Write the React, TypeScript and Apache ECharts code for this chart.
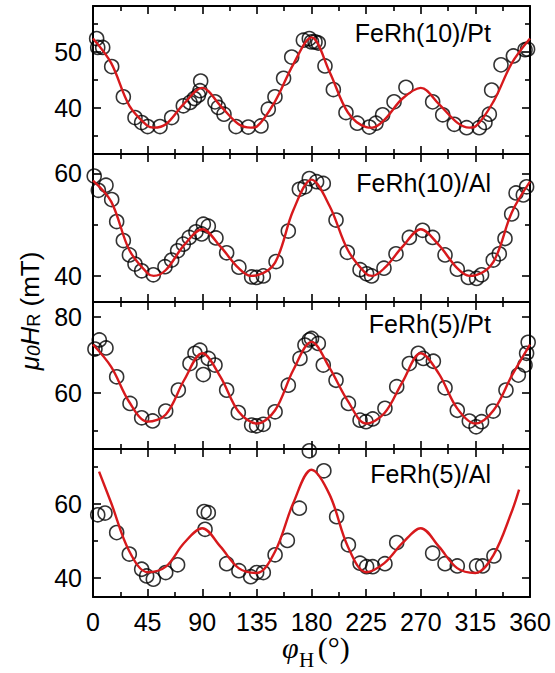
import React, { useEffect, useRef } from 'react';
import * as echarts from 'echarts';

// ---- data (angle in degrees, resonance field in mT) ----
const panelNames = ['FeRh(10)/Pt', 'FeRh(10)/Al', 'FeRh(5)/Pt', 'FeRh(5)/Al'];

const pt10Points = [
  [3, 52.4], [3.9, 50.8], [8, 50.8], [15.4, 47.4], [25, 42.0], [34.6, 38.3], [40.1, 37.4], [45, 36.7],
  [55.2, 36.7], [64.8, 38.3], [74.4, 40.4], [79.9, 41.0], [83.5, 41.7], [86.8, 42.3], [88.1, 43.1],
  [88.7, 44.8], [100.5, 41.1], [103.3, 40.1], [107.9, 38.9], [117.8, 36.7], [127.9, 36.6], [138.4, 36.8],
  [144.4, 39.8], [149.9, 42.0], [157, 45.3], [163.7, 49.1], [173.3, 52.1], [178.2, 52.4], [180, 51.8],
  [182.9, 51.8], [185.6, 51.6], [191.1, 47.5], [198, 43.3], [208.4, 39.2], [217.7, 37.3], [227.6, 36.6],
  [233.1, 37.3], [238.6, 38.8], [248, 41.1], [257.8, 43.7], [279.8, 41.1], [288.1, 38.8], [297.6, 37.1],
  [307.8, 36.5], [318.2, 36.5], [322.9, 37.4], [326.5, 38.9], [328.4, 43.2], [336.1, 47.7], [346.3, 49.3],
  [355.9, 50.4], [358, 50.5],
];
const pt10Fit = [
  [0, 52.4], [15, 48.0], [30, 40.4], [45, 36.8], [50, 36.5], [60, 37.1], [75, 40.8], [90, 43.6],
  [105, 40.4], [120, 37.1], [130, 36.5], [135, 36.7], [150, 41.2], [165, 47.8], [180, 52.6], [195, 46.4],
  [210, 39.2], [225, 36.6], [230, 36.5], [240, 37.9], [255, 41.7], [270, 43.6], [285, 40.7], [300, 37.4],
  [310, 36.5], [315, 36.7], [330, 41.2], [345, 48.0], [360, 52.4],
];

const al10Points = [
  [1, 59.5], [4.4, 56.7], [10.7, 57.7], [15.4, 54.9], [19.5, 50.6], [25, 46.9], [30, 44.1], [34.6, 42.3],
  [40.1, 41.0], [49.7, 40.2], [59.3, 41.8], [64.8, 43.1], [69.7, 44.9], [74.4, 46.2], [79.3, 47.5],
  [84.8, 48.6], [89.5, 48.2], [90.9, 50.1], [95, 49.7], [101.3, 47.4], [110.1, 44.5], [120.2, 41.7],
  [130.7, 39.8], [134.8, 39.7], [140.3, 40.0], [150.8, 42.8], [160.9, 48.75], [170, 56.9], [174.6, 57.4],
  [178.2, 59.0], [184.2, 58.4], [189.7, 58.05], [200.2, 50.9], [209.5, 44.6], [220, 41.2], [225.4, 40.4],
  [229.5, 40.0], [239.7, 41.5], [249.6, 44.3], [260.6, 47.5], [271.5, 48.9], [279.8, 47.5], [290, 44.1],
  [300.1, 41.3], [309.2, 39.7], [316, 39.5], [320.1, 40.2], [329.7, 43.1], [334.7, 44.3], [339.4, 47.3],
  [344.9, 52.1], [348.5, 56.2], [354.5, 55.8], [357.2, 57.4],
];
const al10Fit = [
  [0, 58.6], [15, 54.5], [30, 45.0], [45, 40.5], [50, 40.0], [60, 41.15], [75, 46.0], [90, 49.1],
  [105, 45.7], [120, 41.5], [130, 40.0], [135, 40.1], [150, 42.6], [165, 52.8], [180, 58.8], [195, 53.6],
  [210, 45.0], [225, 40.4], [230, 40.0], [240, 41.5], [255, 45.7], [270, 49.1], [285, 46.0], [300, 41.5],
  [310, 40.0], [315, 40.1], [330, 42.8], [345, 52.4], [360, 58.4],
];

const pt5Points = [
  [1.6, 71.5], [5.2, 73.9], [10.7, 71.8], [19.5, 64.2], [30.5, 57.2], [40.1, 53.4], [49.1, 52.6],
  [59.9, 55.2], [70.3, 60.7], [79.9, 67.7], [84, 70.4], [88.1, 71.2], [90.9, 64.8], [95, 69.05],
  [100.5, 67.3], [110.1, 60.7], [119.7, 54.8], [130.7, 51.5], [134.8, 51.3], [140.3, 51.7], [150, 55.0],
  [160.9, 62.0], [170.5, 69.05], [174.6, 72.55], [178.2, 73.9], [180, 74.3], [185.6, 73.0], [189.7, 67.3],
  [200.2, 63.3], [210.4, 57.2], [220, 52.8], [224.9, 52.4], [230.4, 53.1], [240.5, 55.9], [250.2, 61.6],
  [260.6, 67.7], [268, 70.4], [272.1, 69.05], [280.4, 68.3], [290, 61.3], [300.1, 55.4], [310, 52.55],
  [315.6, 51.05], [320.1, 52.4], [329.7, 55.2], [340.2, 60.7], [350.4, 64.65], [355.9, 67.3],
  [357.2, 70.4], [358.5, 73.3],
];
const pt5Fit = [
  [0, 72.7], [15, 66.8], [30, 57.5], [45, 52.4], [60, 54.3], [75, 63.3], [90, 70.4], [105, 64.2],
  [120, 55.0], [135, 51.9], [150, 55.4], [165, 66.0], [180, 73.4], [195, 66.5], [210, 57.8], [225, 51.9],
  [240, 54.6], [255, 62.9], [270, 70.4], [285, 65.0], [300, 55.9], [315, 51.9], [330, 55.4], [345, 64.5],
  [360, 72.7],
];

const al5Points = [
  [3.9, 57.1], [9.9, 57.6], [19.5, 52.3], [29.9, 46.5], [40.1, 42.4], [44.2, 40.6], [49.7, 39.7],
  [59.9, 41.5], [69.7, 43.6], [91.5, 58.0], [95, 57.7], [92.3, 53.2], [110.1, 43.9], [120.2, 42.0],
  [129.9, 40.4], [134.8, 41.5], [140.3, 41.5], [150, 46.3], [160.1, 50.2], [170, 58.9], [178.2, 74.4],
  [190.2, 69.0], [200.7, 56.6], [210.4, 49.0], [220, 44.05], [225.4, 43.1], [230.4, 43.1], [240.5, 43.9],
  [250.2, 49.6], [279.8, 46.75], [290, 43.9], [300.1, 43.3], [316, 43.3], [321, 43.3], [330.3, 46.0],
];
const al5Fit = [
  [5, 68.8], [15, 60.3], [30, 47.2], [45, 41.6], [60, 43.1], [75, 49.5], [90, 53.5], [105, 48.5],
  [120, 42.7], [135, 41.4], [150, 47.2], [165, 60.3], [180, 69.3], [195, 62.5], [210, 48.5], [225, 41.6],
  [240, 44.05], [255, 49.5], [270, 53.5], [285, 48.5], [300, 42.7], [315, 41.4], [330, 46.3], [345, 58.0],
  [351, 63.9],
];

const yMins = [31.8, 34.9, 45.2, 34.9];
const yMaxs = [58.2, 63.8, 83.9, 74.9];
const yLabelTicks = [[40, 50], [40, 60], [60, 80], [40, 60]];
const yMinorTicks = [[35, 45, 55], [50], [50, 70], [50, 70]];

const allPoints = [pt10Points, al10Points, pt5Points, al5Points];
const allFits = [pt10Fit, al10Fit, pt5Fit, al5Fit];

// ---- layout ----
const gridTops = [6, 154, 302, 449];
const gridHeights = [148, 148, 147, 148];
const labelY = [33, 183, 324, 474];
const SANS = 'Arial, "Liberation Sans", Helvetica, sans-serif';
const SERIF = '"Times New Roman", "Liberation Serif", serif';

function measure(text: string, font: string): number {
  const c = document.createElement('canvas');
  const ctx = c.getContext('2d');
  if (!ctx) return text.length * 12;
  ctx.font = font;
  return ctx.measureText(text).width;
}

export default function App() {
  const ref = useRef<HTMLDivElement>(null);

  useEffect(() => {
    const chart = echarts.init(ref.current as HTMLDivElement, null, { renderer: 'svg' });
    const line = { color: '#000', width: 2 };
    const tickLine = { color: '#000', width: 1.6 };
    const grids: any[] = [];
    const xAxes: any[] = [];
    const yAxes: any[] = [];
    const series: any[] = [];
    const graphics: any[] = [];

    panelNames.forEach((name, i) => {
      grids.push({ left: 93, right: 25, top: gridTops[i], height: gridHeights[i], outerBoundsMode: 'none', containLabel: false });
      const xBase = {
        gridIndex: i, type: 'value', min: 0, max: 360, interval: 45,
        axisLine: { show: true, onZero: false, lineStyle: line },
        axisTick: { show: true, inside: true, length: 8, lineStyle: tickLine },
        minorTick: { show: true, splitNumber: 2, length: 5, lineStyle: tickLine },
        splitLine: { show: false }, minorSplitLine: { show: false },
      };
      xAxes.push({
        ...xBase, position: 'bottom',
        axisLabel: { show: i === 3, fontSize: 25, color: '#000', fontFamily: SANS, margin: 12 },
      });
      xAxes.push({ ...xBase, position: 'top', axisLabel: { show: false } });

      const yBase = {
        gridIndex: i, type: 'value', min: yMins[i], max: yMaxs[i],
        splitLine: { show: false },
      };
      yAxes.push({
        ...yBase, position: 'left',
        axisLine: { show: true, onZero: false, lineStyle: line },
        axisTick: { show: true, inside: true, length: 8, lineStyle: tickLine, customValues: yLabelTicks[i] },
        axisLabel: { show: true, fontSize: 25, color: '#000', fontFamily: SANS, margin: 11, customValues: yLabelTicks[i] },
      });
      yAxes.push({
        ...yBase, position: 'left',
        axisLine: { show: false, onZero: false },
        axisTick: { show: true, inside: true, length: 5, lineStyle: tickLine, customValues: yMinorTicks[i] },
        axisLabel: { show: false },
      });
      yAxes.push({
        ...yBase, position: 'right',
        axisLine: { show: true, onZero: false, lineStyle: line },
        axisTick: { show: true, inside: true, length: 8, lineStyle: tickLine, customValues: yLabelTicks[i] },
        axisLabel: { show: false },
      });
      yAxes.push({
        ...yBase, position: 'right',
        axisLine: { show: false, onZero: false },
        axisTick: { show: true, inside: true, length: 5, lineStyle: tickLine, customValues: yMinorTicks[i] },
        axisLabel: { show: false },
      });

      series.push({
        type: 'scatter', xAxisIndex: 2 * i, yAxisIndex: 4 * i, data: allPoints[i],
        symbol: 'circle', symbolSize: 14, z: 2,
        itemStyle: { color: 'rgba(0,0,0,0)', borderColor: '#000', borderWidth: 1.6 },
        emphasis: { disabled: true },
      });
      series.push({
        type: 'line', xAxisIndex: 2 * i, yAxisIndex: 4 * i, data: allFits[i],
        smooth: 0.35, showSymbol: false, symbol: 'none', z: 3,
        lineStyle: { color: '#d7191c', width: 2.4 },
        emphasis: { disabled: true },
      });

      graphics.push({
        type: 'text', x: 491, y: labelY[i], z: 10,
        style: { text: name, fontSize: 25, fontFamily: SANS, fill: '#000', align: 'right', verticalAlign: 'middle' },
      });
    });

    // y axis title
    graphics.push({
      type: 'text', x: 30, y: 311, rotation: Math.PI / 2, z: 10,
      style: {
        text: '{i|μ}{is|0}{i|H}{s|R}{n| (mT)}',
        align: 'center', verticalAlign: 'middle', fontFamily: SANS, fill: '#000',
        rich: {
          i: { fontSize: 26, fontStyle: 'italic', fontFamily: SANS, fill: '#000' },
          is: { fontSize: 19, fontStyle: 'italic', fontFamily: SANS, fill: '#000', verticalAlign: 'bottom' },
          s: { fontSize: 18, fontFamily: SANS, fill: '#000', verticalAlign: 'bottom' },
          n: { fontSize: 26, fontFamily: SANS, fill: '#000' },
        },
      },
    });

    // x axis title: φ_H (°), built from pieces so the subscript can drop
    const mainSize = 30;
    const subSize = 21;
    const phiW = measure('φ', `italic ${mainSize}px "Liberation Serif", serif`);
    const hW = measure('H', `${subSize}px "Liberation Serif", serif`);
    const x0 = 282;
    const baseMain = 658;
    const baseSub = 667;
    graphics.push({
      type: 'text', x: x0, y: baseMain - 0.34 * mainSize, z: 10,
      style: { text: 'φ', fontSize: mainSize, fontStyle: 'italic', fontFamily: SERIF, fill: '#000', align: 'left', verticalAlign: 'middle' },
    });
    graphics.push({
      type: 'text', x: x0 + phiW + 0.5, y: baseSub - 0.34 * subSize, z: 10,
      style: { text: 'H', fontSize: subSize, fontFamily: SERIF, fill: '#000', align: 'left', verticalAlign: 'middle' },
    });
    graphics.push({
      type: 'text', x: x0 + phiW + hW + 4, y: baseMain - 0.34 * mainSize, z: 10,
      style: { text: '(°)', fontSize: mainSize, fontFamily: SERIF, fill: '#000', align: 'left', verticalAlign: 'middle' },
    });

    chart.setOption({
      animation: false,
      backgroundColor: '#fff',
      grid: grids,
      xAxis: xAxes,
      yAxis: yAxes,
      series,
      graphic: graphics,
    });
    return () => chart.dispose();
  }, []);

  return <div ref={ref} style={{ position: 'absolute', left: 0, top: 0, width: 555, height: 673 }} />;
}
